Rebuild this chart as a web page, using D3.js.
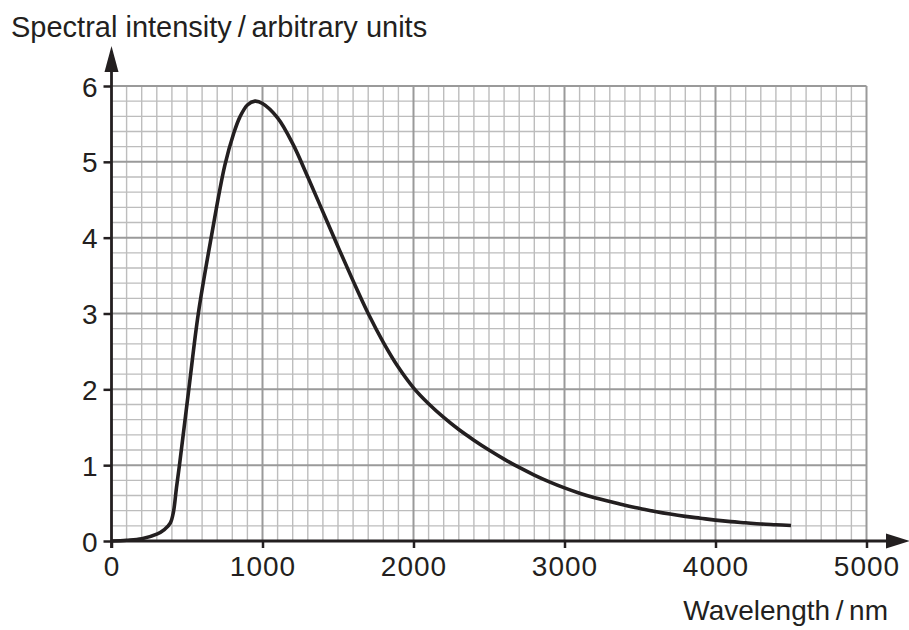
<!DOCTYPE html>
<html>
<head>
<meta charset="utf-8">
<script src="https://cdn.jsdelivr.net/npm/d3@7"></script>
<style>
  html, body { margin: 0; padding: 0; background: #ffffff; }
  svg { display: block; }
</style>
</head>
<body>
<svg id="chart" width="909" height="630"></svg>
<script>
// ---- data ----
const wavelength = [0, 100, 200, 300, 350, 390, 410, 430, 450, 512, 575, 660, 750, 810, 850, 900, 950, 1000,
  1100, 1200, 1300, 1400, 1500, 1600, 1700, 1800, 1900, 2000, 2100, 2200, 2300, 2400, 2500, 2600, 2700, 2800,
  2900, 3000, 3100, 3200, 3300, 3400, 3500, 3600, 3700, 3800, 3900, 4000, 4100, 4200, 4300, 4400, 4500];
const intensity = [0, 0.01, 0.03, 0.09, 0.15, 0.24, 0.38, 0.70, 1.00, 2.00, 3.00, 4.00, 4.95, 5.38, 5.59, 5.75, 5.80, 5.77,
  5.58, 5.24, 4.80, 4.34, 3.88, 3.43, 3.00, 2.62, 2.29, 2.02, 1.81, 1.63, 1.47, 1.33, 1.20, 1.08, 0.97, 0.87,
  0.78, 0.70, 0.63, 0.57, 0.52, 0.47, 0.43, 0.39, 0.355, 0.325, 0.30, 0.275, 0.255, 0.24, 0.225, 0.215, 0.205];
const xTicks = [0, 1000, 2000, 3000, 4000, 5000];
const yTicks = [0, 1, 2, 3, 4, 5, 6];
const xTickLabels = ["0", "1000", "2000", "3000", "4000", "5000"];
const yTickLabels = ["0", "1", "2", "3", "4", "5", "6"];
const yTitle = "Spectral intensity\u2009/\u2009arbitrary units";
const xTitle = "Wavelength\u2009/\u2009nm";

// ---- layout ----
const FONT = "Liberation Sans, Arial, Helvetica, sans-serif";
const svg = d3.select("#chart");
const x = d3.scaleLinear().domain([0, 5000]).range([111.5, 866.5]);
const y = d3.scaleLinear().domain([0, 6]).range([541, 86]);
const ink = "#231f20";

// ---- grid ----
const grid = svg.append("g");
const minorX = d3.range(0, 5001, 100).filter(v => v % 1000 !== 0);
const minorY = d3.range(0, 31).map(i => i * 0.2).filter((v, i) => i % 5 !== 0);
grid.selectAll(".mx").data(minorX).join("line")
  .attr("x1", d => x(d)).attr("x2", d => x(d)).attr("y1", y(0)).attr("y2", y(6))
  .attr("stroke", "#bdbdbd").attr("stroke-width", 1.4);
grid.selectAll(".my").data(minorY).join("line")
  .attr("y1", d => y(d)).attr("y2", d => y(d)).attr("x1", x(0)).attr("x2", x(5000))
  .attr("stroke", "#bdbdbd").attr("stroke-width", 1.4);
grid.selectAll(".Mx").data(xTicks.slice(1)).join("line")
  .attr("x1", d => x(d)).attr("x2", d => x(d)).attr("y1", y(0)).attr("y2", y(6))
  .attr("stroke", "#9a9a9a").attr("stroke-width", 2);
grid.selectAll(".My").data(yTicks.slice(1)).join("line")
  .attr("y1", d => y(d)).attr("y2", d => y(d)).attr("x1", x(0)).attr("x2", x(5000))
  .attr("stroke", "#9a9a9a").attr("stroke-width", 2);

// ---- axes (ticks + labels via d3 axes) ----
const xAxis = d3.axisBottom(x).tickValues(xTicks).tickSize(7).tickSizeOuter(0)
  .tickFormat((d, i) => xTickLabels[i]);
const gx = svg.append("g").attr("transform", `translate(0,${y(0)})`).call(xAxis)
  .attr("font-family", FONT).attr("font-size", 28);
gx.select(".domain").remove();
gx.selectAll("line").attr("stroke", ink).attr("stroke-width", 2.5);
gx.selectAll("text").attr("y", 35).attr("dy", 0).attr("letter-spacing", 1).attr("fill", ink);

const yAxis = d3.axisLeft(y).tickValues(yTicks).tickSize(8).tickSizeOuter(0)
  .tickFormat((d, i) => yTickLabels[i]);
const gy = svg.append("g").attr("transform", `translate(${x(0)},0)`).call(yAxis)
  .attr("font-family", FONT).attr("font-size", 28);
gy.select(".domain").remove();
gy.selectAll("line").attr("stroke", ink).attr("stroke-width", 2.5);
gy.selectAll("text").attr("x", -14).attr("dy", "0.36em").attr("fill", ink);

// axis lines with arrows
svg.append("line").attr("x1", x(0) - 1).attr("x2", 888).attr("y1", y(0)).attr("y2", y(0))
  .attr("stroke", ink).attr("stroke-width", 2.8);
svg.append("path").attr("d", `M886,${y(0) - 7.5} L910,${y(0)} L886,${y(0) + 7.5} Z`).attr("fill", ink);
svg.append("line").attr("x1", x(0)).attr("x2", x(0)).attr("y1", y(0) + 7).attr("y2", 70)
  .attr("stroke", ink).attr("stroke-width", 2.8);
svg.append("path").attr("d", `M${x(0) - 7},72 L${x(0)},46 L${x(0) + 7},72 Z`).attr("fill", ink);

// ---- curve ----
const pts = wavelength.map((w, i) => [w, intensity[i]]);
const line = d3.line().x(d => x(d[0])).y(d => y(d[1])).curve(d3.curveCatmullRom.alpha(0.5));
svg.append("path").datum(pts).attr("d", line)
  .attr("fill", "none").attr("stroke", ink).attr("stroke-width", 3.6)
  .attr("stroke-linejoin", "round").attr("stroke-linecap", "butt");

// ---- titles ----
svg.append("text").attr("x", 11).attr("y", 37).attr("font-family", FONT).attr("font-size", 29)
  .attr("fill", ink).text(yTitle);
svg.append("text").attr("x", 888).attr("y", 620).attr("text-anchor", "end").attr("font-family", FONT)
  .attr("font-size", 28).attr("fill", ink).text(xTitle);
</script>
</body>
</html>
